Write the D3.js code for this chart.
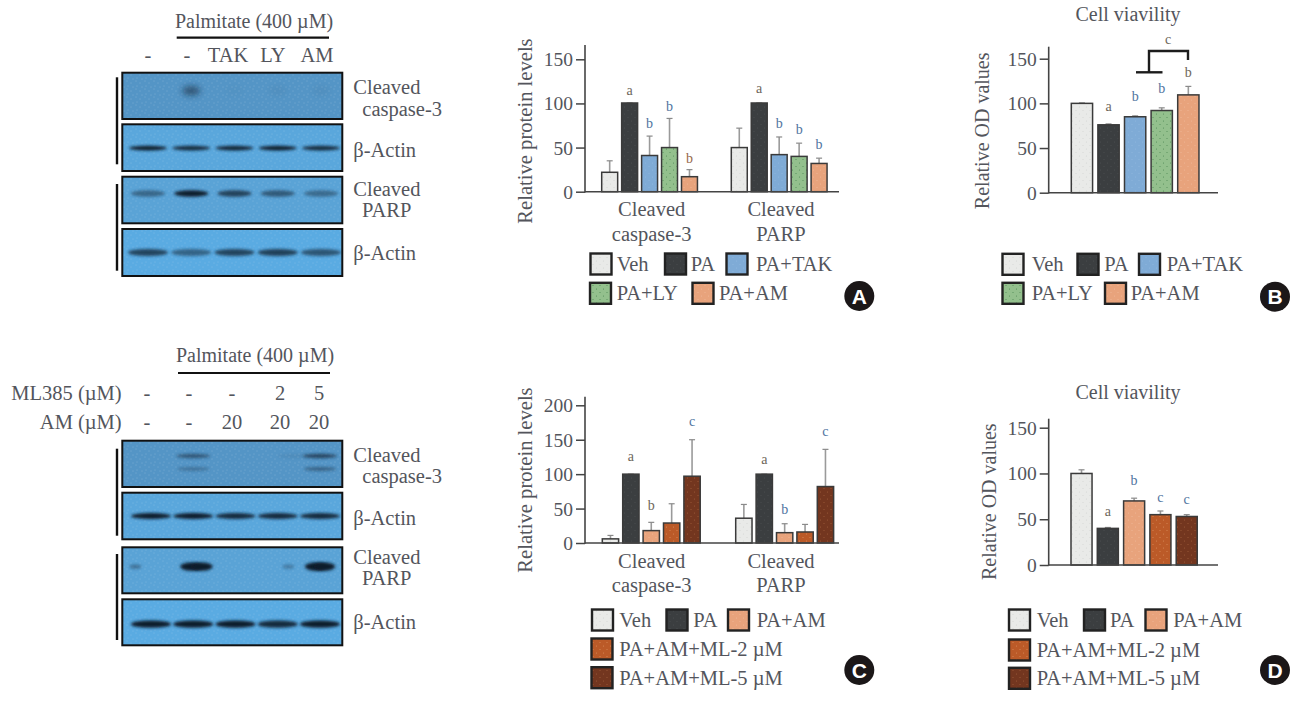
<!DOCTYPE html>
<html><head><meta charset="utf-8">
<script src="https://cdn.jsdelivr.net/npm/d3@7"></script>
<style>
html,body{margin:0;padding:0;background:#fff;overflow:hidden}
text{font-family:"Liberation Serif",serif;fill:#53555c;font-size:20.5px;dominant-baseline:central}
</style></head><body>
<script>
// ---------- data ----------
const treatA = ["Veh","PA","PA+TAK","PA+LY","PA+AM"];
const treatC = ["Veh","PA","PA+AM","PA+AM+ML-2 µM","PA+AM+ML-5 µM"];
const groups = ["Cleaved caspase-3","Cleaved PARP"];

const valuesA = [[22,100.5,41,50,17],[50,100.5,42,40,32]];
const errTopA = [[35,100.5,63,83,25],[72,100.5,62,55,38]];
const lettersA = [["","a","b","b","b"],["","a","b","b","b"]];
const letterAtA = [[0,115,77.5,97,38],[0,117,77.5,71,54]];

const valuesB = [[100,76,85,92,109.5]];
const errTopB = [[100.5,77,86,95,119]];
const lettersB = [["","a","b","b","b"]];
const letterAtB = [[0,97,108,117,135]];

const valuesC = [[6,100,18,29,97],[36,100,15,16,82]];
const errTopC = [[11,100,30,57,150],[56,100,28,27,136]];
const lettersC = [["","a","b","","c"],["","a","b","","c"]];
const letterAtC = [[0,126,55,0,177],[0,121,49,0,162]];

const valuesD = [[100,40,70,55,53]];
const errTopD = [[104,41,73,59,55]];
const lettersD = [["","a","b","c","c"]];
const letterAtD = [[0,58.6,92,74,72]];

const ticksAB = [0,50,100,150];
const ticksC = [0,50,100,150,200];

// blot band readings: lane index, relative darkness
const blotA1 = [[1,.55],[2,.02],[3,.05],[4,.05]];
const blotA2 = [[0,1],[1,.9],[2,.95],[3,1],[4,.9]];
const blotA3 = [[0,.45],[1,1],[2,.72],[3,.55],[4,.42]];
const blotA4 = [[0,.72],[1,.5],[2,.72],[3,.75],[4,.6]];
const blotC1a = [[1,.5],[3.4,.07],[4,.65]];
const blotC1b = [[1,.28],[4,.42]];
const blotC2 = [[0,1],[1,1],[2,.9],[3,.9],[4,.9]];
const blotC3 = [[.95,1],[1.2,1],[3.9,1],[4.1,1]];
const blotC3faint = [[-.37,.38],[3.25,.3]];
const blotC4 = [[0,1],[1,1],[2,1],[3,.9],[4,1]];

// ---------- page ----------
const svg = d3.select("body").append("svg").attr("width",1301).attr("height",702);
const defs = svg.append("defs");
const swatchColors = {"Veh":"#e9eae8","PA":"#3b3e40","PA+TAK":"#7fabd6","PA+LY":"#93c08d","PA+AM":"#e8a37c","PA+AM+ML-2 µM":"#bb5a28","PA+AM+ML-5 µM":"#73361f"};
const stippleColors = {"Veh":"#d4d6d4","PA":"#4b4e50","PA+TAK":"#90b8de","PA+LY":"#4f8a55","PA+AM":"#f0b898","PA+AM+ML-2 µM":"#d88a58","PA+AM+ML-5 µM":"#9c5a38"};
const id = n => "p"+treatA.concat(treatC).indexOf(n);
Object.keys(swatchColors).forEach(k=>{
  const p = defs.append("pattern").attr("id",id(k)).attr("width",7).attr("height",7).attr("patternUnits","userSpaceOnUse");
  p.append("rect").attr("width",7).attr("height",7).attr("fill",swatchColors[k]);
  p.append("circle").attr("cx",1.5).attr("cy",2).attr("r",.55).attr("fill",stippleColors[k]);
  p.append("circle").attr("cx",5).attr("cy",5.5).attr("r",.55).attr("fill",stippleColors[k]);
});
const bp = defs.append("pattern").attr("id","speck").attr("width",9).attr("height",8).attr("patternUnits","userSpaceOnUse");
[[1,1],[5,3],[2,6],[7,7]].forEach(d=>bp.append("circle").attr("cx",d[0]).attr("cy",d[1]).attr("r",.45).attr("fill","#cfe6f4").attr("opacity",.55));
const blurF = (n,s)=>defs.append("filter").attr("id",n).attr("x","-50%").attr("y","-150%").attr("width","200%").attr("height","400%")
  .append("feGaussianBlur").attr("stdDeviation",s);
blurF("blur",1.4); blurF("blurWide",3);

function label(g,x,y,t,opt={}){
  const el = g.append("text").attr("x",x).attr("y",y).text(t);
  if(opt.anchor) el.attr("text-anchor",opt.anchor);
  if(opt.size) el.style("font-size",opt.size+"px");
  if(opt.fill) el.style("fill",opt.fill);
  if(opt.rotate) el.attr("transform",`rotate(-90 ${x} ${y})`);
  return el;
}

function barPanel(cfg){
  const g = svg.append("g");
  const y = d3.scaleLinear().domain([0,cfg.yMax]).range([cfg.y0,cfg.yMaxPx]);
  const xAxis = cfg.xEnd;
  cfg.values.forEach((vals,gi)=>{
    const x = d3.scaleBand().domain(d3.range(vals.length))
      .range([cfg.groupStart[gi],cfg.groupStart[gi]+cfg.pitch*(vals.length-cfg.inner)]).paddingInner(cfg.inner).paddingOuter(0);
    const names = cfg.names;
    g.selectAll(null).data(vals).enter().append("line")
      .attr("x1",(d,i)=>x(i)+x.bandwidth()/2).attr("x2",(d,i)=>x(i)+x.bandwidth()/2)
      .attr("y1",d=>y(d)).attr("y2",(d,i)=>y(cfg.errTop[gi][i])).attr("stroke","#9a9a9a").attr("stroke-width",1.6);
    g.selectAll(null).data(vals).enter().append("line")
      .attr("x1",(d,i)=>x(i)+x.bandwidth()/2-3).attr("x2",(d,i)=>x(i)+x.bandwidth()/2+3)
      .attr("y1",(d,i)=>y(cfg.errTop[gi][i])).attr("y2",(d,i)=>y(cfg.errTop[gi][i])).attr("stroke","#8a8a8a").attr("stroke-width",1.2);
    g.selectAll(null).data(vals).enter().append("rect")
      .attr("x",(d,i)=>x(i)).attr("width",x.bandwidth()).attr("y",d=>y(d)).attr("height",d=>cfg.y0-y(d))
      .attr("fill",(d,i)=>`url(#${id(names[i])})`).attr("stroke","#3a3a3a").attr("stroke-width",1.5);
    g.selectAll(null).data(cfg.letters[gi]).enter().append("text")
      .attr("x",(d,i)=>x(i)+x.bandwidth()/2).attr("y",(d,i)=>y(cfg.letterAt[gi][i]))
      .attr("text-anchor","middle").style("font-size","14px")
      .style("fill",(d,i)=>cfg.letterColor[gi][i]).text(d=>d);
  });
  const axis = d3.axisLeft(y).tickValues(cfg.ticks).tickSize(9).tickPadding(3).tickFormat(d3.format("d"));
  const ag = g.append("g").attr("transform",`translate(${cfg.xAxis},0)`).call(axis);
  ag.select(".domain").remove();
  ag.selectAll(".tick line").attr("stroke","#444").attr("stroke-width",1.5);
  ag.selectAll(".tick text").style("font-size","19.5px").attr("dy",0);
  g.append("line").attr("x1",cfg.xAxis).attr("x2",cfg.xAxis).attr("y1",cfg.yTop).attr("y2",cfg.y0+.75).attr("stroke","#444").attr("stroke-width",1.6);
  g.append("line").attr("x1",cfg.xAxis).attr("x2",xAxis).attr("y1",cfg.y0).attr("y2",cfg.y0).attr("stroke","#444").attr("stroke-width",1.6);
  label(g,cfg.yTitle[0],cfg.yTitle[1],cfg.yLabel,{anchor:"middle",rotate:true,size:cfg.yLabelSize});
  if(cfg.title) label(g,cfg.title[0],cfg.title[1],"Cell viavility",{anchor:"middle",size:20});
  (cfg.cats||[]).forEach(c=>label(g,c[0],c[1],c[2],{anchor:"middle"}));
  cfg.legend.forEach(l=>{
    g.append("rect").attr("x",l[0]).attr("y",l[1]-10.5).attr("width",21).attr("height",21)
      .attr("fill",`url(#${id(l[3])})`).attr("stroke","#222").attr("stroke-width",2.4);
    label(g,l[2],l[1],l[3]);
  });
  g.append("circle").attr("cx",cfg.badge[0]).attr("cy",cfg.badge[1]).attr("r",15).attr("fill","#1b1718");
  g.append("text").attr("x",cfg.badge[0]).attr("y",cfg.badge[1]).attr("text-anchor","middle")
    .style("font-family","'Liberation Sans'").style("font-weight","700").style("font-size","21px").style("fill","#fff").text(cfg.badge[2]);
  return {g,y};
}

const brown="#6d665a", blue="#4f74a0", tan="#96684a", none="#000";
barPanel({values:valuesA,errTop:errTopA,letters:lettersA,letterAt:letterAtA,
  letterColor:[[none,brown,blue,blue,tan],[none,brown,blue,blue,blue]],names:treatA,
  yMax:150,y0:191.7,yMaxPx:59.3,yTop:45,xAxis:585,xEnd:839,groupStart:[601.7,731.3],pitch:19.95,inner:.2,ticks:ticksAB,
  yLabel:"Relative protein levels",yLabelSize:20.6,yTitle:[525,131],
  cats:[[651.7,209,"Cleaved"],[651.7,234,"caspase-3"],[781,209,"Cleaved"],[781,234,"PARP"]],
  legend:[[590.5,264,616.7,"Veh"],[665,264,690.7,"PA"],[726.5,264,756,"PA+TAK"],[590,293.3,616.7,"PA+LY"],[692.5,293.3,719,"PA+AM"]],
  badge:[859.3,296,"A"]});

const b = barPanel({values:valuesB,errTop:errTopB,letters:lettersB,letterAt:letterAtB,
  letterColor:[[none,brown,blue,blue,brown]],names:treatA,
  yMax:150,y0:192.7,yMaxPx:58.7,yTop:46.7,xAxis:1048.7,xEnd:1218,groupStart:[1071.3],pitch:26.6,inner:.2,ticks:ticksAB,
  yLabel:"Relative OD values",yLabelSize:20,yTitle:[981.7,130.8],title:[1128,14],
  legend:[[1002.5,264.3,1031.7,"Veh"],[1077.5,264.3,1104.3,"PA"],[1139,264.3,1166.7,"PA+TAK"],[1002.5,293.3,1031.7,"PA+LY"],[1105,293.3,1130.7,"PA+AM"]],
  badge:[1275,296.7,"B"]});
b.g.append("path").attr("fill","none").attr("stroke","#1c1c1c").attr("stroke-width",2.4)
  .attr("d",d3.line()([[1136,72.3],[1162.5,72.3]]));
b.g.append("path").attr("fill","none").attr("stroke","#1c1c1c").attr("stroke-width",2.4)
  .attr("d",d3.line()([[1149,72.3],[1149,51],[1188,51],[1188,60]]));
label(b.g,1168,39,"c",{anchor:"middle",size:14,fill:brown});

barPanel({values:valuesC,errTop:errTopC,letters:lettersC,letterAt:letterAtC,
  letterColor:[[none,brown,brown,none,blue],[none,brown,blue,none,blue]],names:treatC,
  yMax:200,y0:543,yMaxPx:405.3,yTop:396.7,xAxis:585,xEnd:839,groupStart:[602.3,735.7],pitch:20.4,inner:.2,ticks:ticksC,
  yLabel:"Relative protein levels",yLabelSize:20.6,yTitle:[525,480],
  cats:[[651.7,560.7,"Cleaved"],[651.7,584.7,"caspase-3"],[781,560.7,"Cleaved"],[781,584.7,"PARP"]],
  legend:[[592,620,619.3,"Veh"],[666.5,620,693.3,"PA"],[728,620,756.7,"PA+AM"],[591.5,649,619.3,"PA+AM+ML-2 µM"],[591.5,677.7,619.3,"PA+AM+ML-5 µM"]],
  badge:[859.3,670,"C"]});

barPanel({values:valuesD,errTop:errTopD,letters:lettersD,letterAt:letterAtD,
  letterColor:[[none,brown,blue,blue,blue]],names:treatC,
  yMax:150,y0:565,yMaxPx:427.7,yTop:418.7,xAxis:1048.7,xEnd:1218,groupStart:[1071],pitch:26.3,inner:.2,ticks:ticksAB,
  yLabel:"Relative OD values",yLabelSize:20,yTitle:[989,501.7],title:[1128,391.7],
  legend:[[1009,620,1036.7,"Veh"],[1084,620,1110,"PA"],[1145.5,620,1173.3,"PA+AM"],[1009,650,1036.7,"PA+AM+ML-2 µM"],[1009,678.3,1036.7,"PA+AM+ML-5 µM"]],
  badge:[1275,670,"D"]});

// ---------- western blots ----------
const laneA = d3.scaleLinear().domain([0,4]).range([148,321]);
const laneC = d3.scaleLinear().domain([0,4]).range([151,320]);
function blot(lane,y,h,fill,rows){
  const g = svg.append("g");
  g.append("rect").attr("x",122.3).attr("y",y).attr("width",220).attr("height",h).attr("fill",fill);
  g.append("rect").attr("x",122.3).attr("y",y).attr("width",220).attr("height",h).attr("fill","url(#speck)");
  rows.forEach(r=>{
    g.selectAll(null).data(r.bands).enter().append("ellipse")
      .attr("cx",d=>lane(d[0])).attr("cy",y+h*r.at).attr("rx",r.rx).attr("ry",r.ry)
      .attr("fill","#0e1a2c").attr("opacity",d=>d[1]).attr("filter",`url(#${r.wide?"blurWide":"blur"})`);
  });
  g.append("rect").attr("x",122.3).attr("y",y).attr("width",220).attr("height",h).attr("fill","none").attr("stroke","#111").attr("stroke-width",2);
}
blot(laneA,72.7,46.3,"#5495c6",[{bands:blotA1,at:.39,rx:9,ry:4.5,wide:true}]);
blot(laneA,124.3,46.7,"#5aa7dc",[{bands:blotA2,at:.51,rx:19,ry:2.4}]);
blot(laneA,176.7,46.6,"#5aa3d6",[{bands:blotA3,at:.36,rx:17,ry:3.2}]);
blot(laneA,229,47,"#5aabe2",[{bands:blotA4,at:.5,rx:20,ry:3.4}]);
blot(laneC,440.7,46.3,"#5495c6",[{bands:blotC1a,at:.33,rx:17,ry:2.2},{bands:blotC1b,at:.61,rx:16,ry:2}]);
blot(laneC,492.7,46.6,"#5aa7dc",[{bands:blotC2,at:.5,rx:20,ry:3}]);
blot(laneC,547.3,46,"#5aa3d6",[{bands:blotC3,at:.42,rx:11,ry:4.2},{bands:blotC3faint,at:.42,rx:6,ry:2.2}]);
blot(laneC,599.3,46,"#5aabe2",[{bands:blotC4,at:.54,rx:20,ry:3.6}]);

const t = svg.append("g");
[[117,77.3,164.3],[117,184,270.7],[117,448.7,535.7],[117,554,640]].forEach(l=>
  t.append("line").attr("x1",l[0]).attr("x2",l[0]).attr("y1",l[1]).attr("y2",l[2]).attr("stroke","#111").attr("stroke-width",2.4));
[[176.7,329,37.7],[178,330,373]].forEach(l=>
  t.append("line").attr("x1",l[0]).attr("x2",l[1]).attr("y1",l[2]).attr("y2",l[2]).attr("stroke","#111").attr("stroke-width",2.2));

const headA = ["-","-","TAK","LY","AM"], headAx=[148,187,228,273,317];
headA.forEach((s,i)=>label(t,headAx[i],55,s,{anchor:"middle"}));
label(t,254,20.7,"Palmitate (400 µM)",{anchor:"middle",size:20});
label(t,255,355,"Palmitate (400 µM)",{anchor:"middle",size:20});
const ml385 = ["-","-","-","2","5"], amRow = ["-","-","20","20","20"], headCx=[147,189,232,280,319];
ml385.forEach((s,i)=>label(t,headCx[i],393.3,s,{anchor:"middle"}));
amRow.forEach((s,i)=>label(t,headCx[i],421.7,s,{anchor:"middle"}));
label(t,121.7,393.3,"ML385 (µM)",{anchor:"end"});
label(t,121.7,421.7,"AM (µM)",{anchor:"end"});
[[353.3,87.3,"Cleaved"],[362.3,108.7,"caspase-3"],[353.3,150,"β-Actin"],[353.3,189.3,"Cleaved"],[362,210,"PARP"],[353.3,253,"β-Actin"],
 [353.3,455,"Cleaved"],[362.3,476,"caspase-3"],[353.3,518.3,"β-Actin"],[353.3,556.7,"Cleaved"],[362,577.7,"PARP"],[353.3,621.7,"β-Actin"]]
 .forEach(r=>label(t,r[0],r[1],r[2]));
</script>
</body></html>
